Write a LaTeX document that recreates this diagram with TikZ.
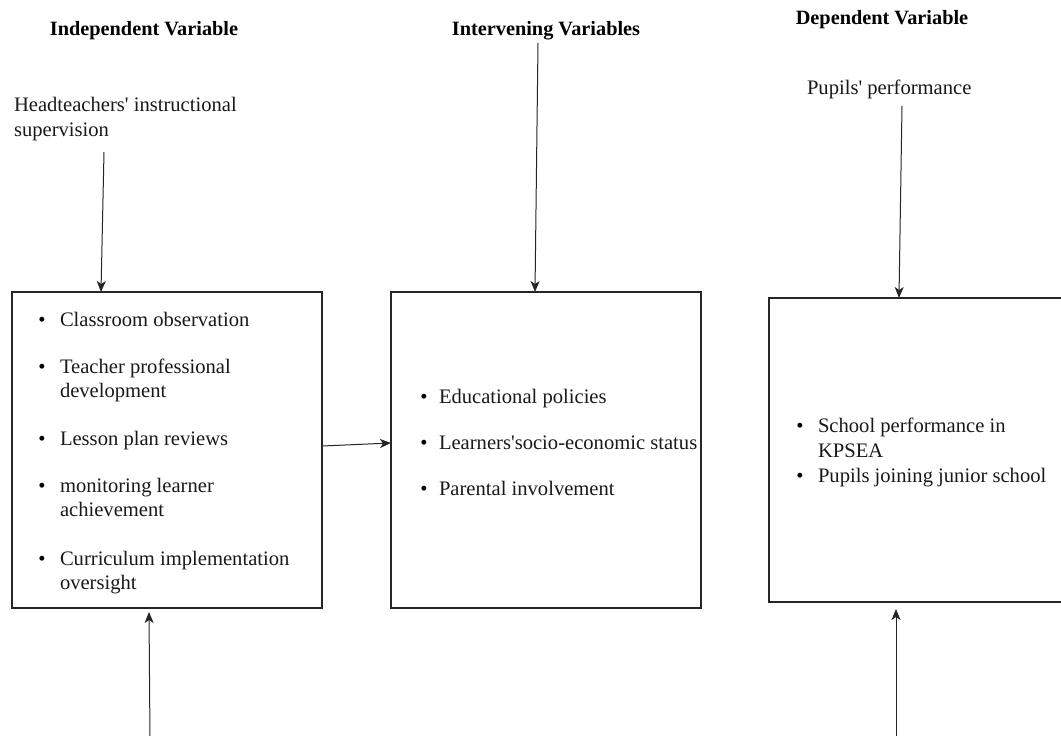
\documentclass[tikz,border=0pt]{standalone}
\usepackage{fontspec}
\setmainfont{Liberation Serif}
\usetikzlibrary{arrows.meta}
\newcommand{\fsz}{\fontsize{20.6}{24.5}\selectfont}
\newcommand{\fbz}{\fontsize{20.3}{24}\selectfont\bfseries}
\newcommand{\ap}{\textquotesingle}
\begin{document}
\begin{tikzpicture}[x=1pt,y=-1pt,
  box/.style={draw=black!85, line width=1.2pt, rectangle, inner sep=0pt, outer sep=0pt},
  txt/.style={anchor=base west, inner sep=0pt, outer sep=0pt, font=\fsz, text=black!90},
  bul/.style={anchor=base, inner sep=0pt, outer sep=0pt, font=\fsz},
  ttl/.style={anchor=base, inner sep=0pt, outer sep=0pt, font=\fbz},
  arr/.style={draw=black!85, line width=1pt, -{Stealth[length=11pt,width=9pt,inset=3pt]}}]
\useasboundingbox (0,0) rectangle (1061,736);
\fill[white] (0,0) rectangle (1061,736);

% titles
\node[ttl] (t1) at (144,35.5) {Independent Variable};
\node[ttl] (t2) at (546,35.5) {Intervening Variables};
\node[ttl] (t3) at (882,24) {Dependent Variable};

\node[txt] (h1) at (14,111) {Headteachers\ap{} instructional};
\node[txt] (h2) at (14,136.5) {supervision};
\node[txt] (p1) at (807,94) {Pupils\ap{} performance};

% boxes
\node[box, minimum width=310pt, minimum height=316pt] (b1) at (167,450) {};
\node[box, minimum width=310pt, minimum height=316pt] (b2) at (546,450) {};
\node[box, minimum width=320pt, minimum height=304pt, anchor=north west] (b3) at (769,298) {};

% box 1 list
\node[bul] (u11) at (42,326) {\textbullet};
\node[txt] (i11) at (60,326) {Classroom observation};
\node[bul] (u12) at (42,373) {\textbullet};
\node[txt] (i12) at (60,373) {Teacher professional};
\node[txt] (i12b) at (60,397) {development};
\node[bul] (u13) at (42,445) {\textbullet};
\node[txt] (i13) at (60,445) {Lesson plan reviews};
\node[bul] (u14) at (42,492) {\textbullet};
\node[txt] (i14) at (60,492) {monitoring learner};
\node[txt] (i14b) at (60,516) {achievement};
\node[bul] (u15) at (42,565) {\textbullet};
\node[txt] (i15) at (60,565) {Curriculum implementation};
\node[txt] (i15b) at (60,589) {oversight};

% box 2 list
\node[bul] (u21) at (424,403) {\textbullet};
\node[txt] (i21) at (439,403) {Educational policies};
\node[bul] (u22) at (424,449) {\textbullet};
\node[txt] (i22) at (439,449) {Learners\ap{}socio-economic status};
\node[bul] (u23) at (424,495) {\textbullet};
\node[txt] (i23) at (439,495) {Parental involvement};

% box 3 list
\node[bul] (u31) at (800,432) {\textbullet};
\node[txt] (i31) at (818,432) {School performance in};
\node[txt] (i31b) at (818,457) {KPSEA};
\node[bul] (u32) at (800,482) {\textbullet};
\node[txt] (i32) at (818,482) {Pupils joining junior school};

% connectors
\coordinate (a1s) at (104,152);
\coordinate (a1e) at (101,0);
\draw[arr] (a1s) -- (a1e |- b1.north);

\coordinate (a2s) at (538,43);
\coordinate (a2e) at (535,0);
\draw[arr] (a2s) -- (a2e |- b2.north);

\coordinate (a3s) at (902,106);
\coordinate (a3e) at (899,0);
\draw[arr] (a3s) -- (a3e |- b3.north);

\coordinate (hs) at (0,446);
\coordinate (he) at (0,443);
\draw[arr] (b1.east |- hs) -- (b2.west |- he);

\coordinate (c1s) at (150,740);
\coordinate (c1e) at (149,612);
\draw[arr] (c1s) -- (c1e);

\coordinate (c2s) at (896,740);
\coordinate (c2e) at (896,609);
\draw[arr] (c2s) -- (c2e);
\end{tikzpicture}
\end{document}
